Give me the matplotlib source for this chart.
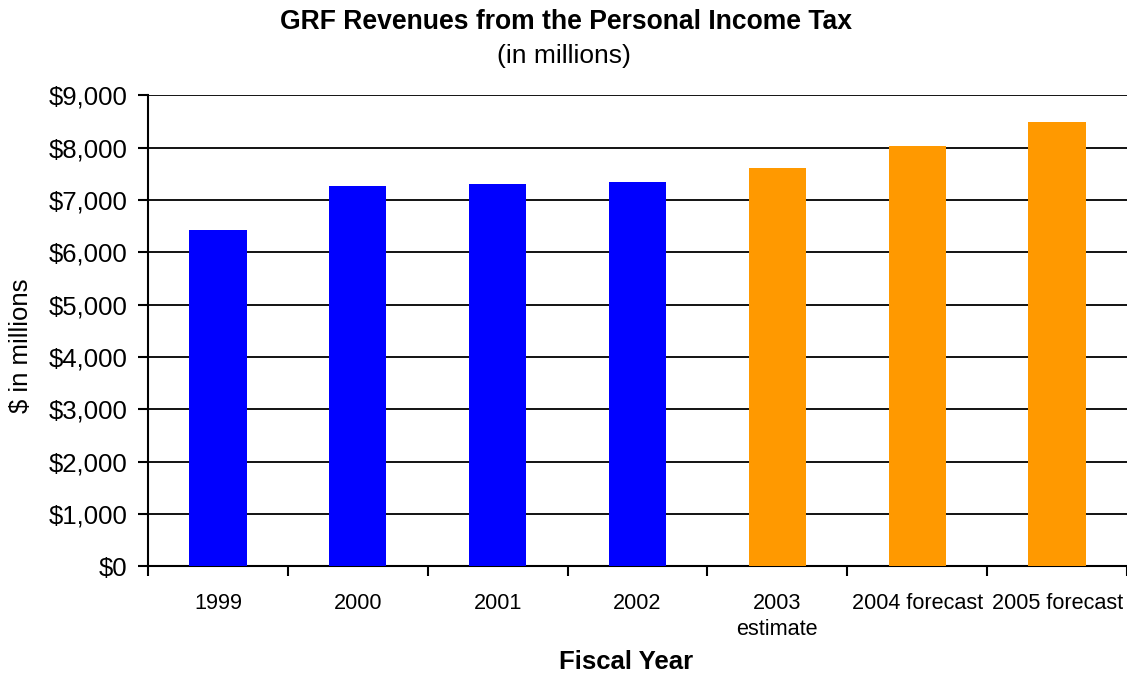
import matplotlib
matplotlib.use("Agg")
import matplotlib.pyplot as plt
from matplotlib.ticker import FuncFormatter

plt.rcParams['font.family'] = ['Liberation Sans', 'DejaVu Sans']

# fiscal years and revenue (millions of dollars)
years = ["1999", "2000", "2001", "2002", "2003\nestimate", "2004 forecast", "2005 forecast"]
revenue = [6425, 7265, 7305, 7345, 7610, 8030, 8490]
actual = [True, True, True, True, False, False, False]

colors = ['#0000FF' if a else '#FF9900' for a in actual]

fig = plt.figure(figsize=(11.27, 6.75), dpi=100)
ax = fig.add_axes([0.1313, 0.161, 0.8687, 0.6978])

x = list(range(len(years)))
ax.bar(x, revenue, width=0.41, color=colors, zorder=3)

ax.set_xlim(-0.5, len(years) - 0.5)
ax.set_ylim(0, 9000)
ax.set_yticks(range(0, 9001, 1000))
ax.yaxis.set_major_formatter(FuncFormatter(lambda v, p: "${:,.0f}".format(v)))
ax.grid(axis='y', color='black', linewidth=1.3, zorder=0)

# ticks between categories, labels centred under bars
ax.set_xticks([i - 0.5 for i in range(len(years) + 1)])
ax.set_xticklabels([])
ax.set_xticks(x, minor=True)
ax.set_xticklabels(years, minor=True, fontsize=15.6, linespacing=1.35, va='top')
ax.tick_params(axis='x', which='minor', length=0, pad=19)
ax.tick_params(axis='x', which='major', length=7, width=1.5, direction='out')
ax.tick_params(axis='y', labelsize=18.5, length=7, width=1.5, pad=8)

for side in ['top', 'right']:
    ax.spines[side].set_visible(False)
ax.spines['left'].set_linewidth(1.5)
ax.spines['bottom'].set_linewidth(1.5)

fig.text(0.502, 0.968, "GRF Revenues from the Personal Income Tax",
         ha='center', va='center', fontsize=19.1, fontweight='bold')
fig.text(0.500, 0.917, "(in millions)", ha='center', va='center', fontsize=19)
fig.text(0.5555, 0.019, "Fiscal Year", ha='center', va='center',
         fontsize=18.5, fontweight='bold')
fig.text(0.019, 0.488, "$ in millions", ha='center', va='center',
         fontsize=18.5, rotation=90)

fig.savefig("out.png", dpi=100)
